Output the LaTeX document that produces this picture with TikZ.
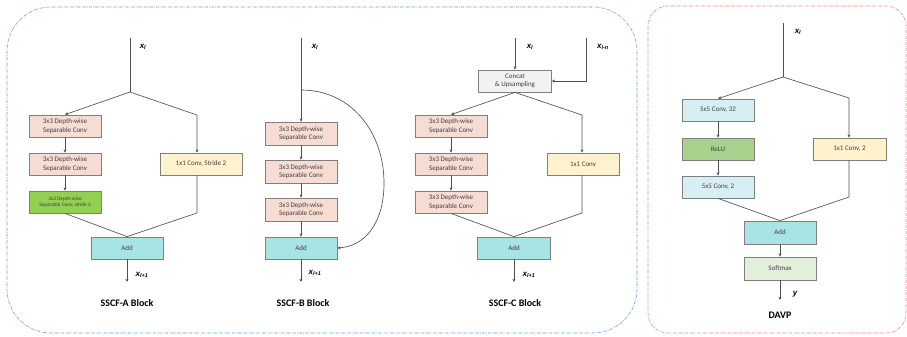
\documentclass[tikz,border=0pt]{standalone}
\usepackage{fontspec}
\setmainfont{Carlito}
\newfontfamily\labfont{Liberation Sans}
\usetikzlibrary{arrows.meta}
\definecolor{pinkf}{HTML}{F6DCD2}
\definecolor{yellf}{HTML}{FFF2CC}
\definecolor{greenf}{HTML}{92D050}
\definecolor{cyanf}{HTML}{A8E4E4}
\definecolor{grayf}{HTML}{F2F2F2}
\definecolor{lcyanf}{HTML}{D7EFF4}
\definecolor{reluf}{HTML}{A9D18E}
\definecolor{softf}{HTML}{E2EFDA}
\definecolor{boxline}{HTML}{7F7F7F}
\definecolor{conn}{HTML}{505050}
\definecolor{bluedash}{HTML}{6A9BD0}
\definecolor{reddash}{HTML}{F08080}
\tikzset{
  x=1pt, y=-1pt,
  blk/.style={draw=boxline, line width=0.8pt, minimum width=72pt, minimum height=22pt,
    inner sep=0pt, align=center, text=black!75, font=\fontsize{7}{8.5}\selectfont},
  pinkbox/.style={blk, fill=pinkf},
  yellbox/.style={blk, fill=yellf},
  greenbox/.style={blk, fill=greenf, font=\fontsize{5.3}{6.8}\selectfont},
  addbox/.style={blk, fill=cyanf},
  graybox/.style={blk, fill=grayf},
  lcbox/.style={blk, fill=lcyanf},
  relubox/.style={blk, fill=reluf},
  softbox/.style={blk, fill=softf},
  wire/.style={draw=conn, line width=0.65pt},
  arr/.style={wire, -{Stealth[length=3.2pt,width=3pt]}},
  lab/.style={font=\labfont\fontsize{8}{10}\selectfont\bfseries\itshape, inner sep=0pt},
  ttl/.style={font=\fontsize{10}{12}\selectfont\bfseries, inner sep=0pt},
  frame/.style={line width=0.6pt, dash pattern=on 3pt off 1.2pt on 0.7pt off 1.2pt}
}
\newcommand{\xl}{x\textsubscript{\fontsize{5.5}{7}\selectfont l}}
\newcommand{\xlp}{x\textsubscript{\fontsize{5.5}{7}\selectfont l+1}}
\newcommand{\xln}{x\textsubscript{\fontsize{5.5}{7}\selectfont l-n}}
\begin{document}
\begin{tikzpicture}
\useasboundingbox (0,0) rectangle (907,337);
\fill[white] (0,0) rectangle (907,337);
% frames
\draw[frame, draw=bluedash, rounded corners=44pt] (7,7) rectangle (637,333);
\draw[frame, draw=reddash, rounded corners=20pt] (648,6) rectangle (906,333);

% ---------------- SSCF-A ----------------
\node[pinkbox] (a1) at (65,126) {3x3 Depth-wise\\Separable Conv};
\node[pinkbox] (a2) at (65,164) {3x3 Depth-wise\\Separable Conv};
\node[greenbox] (a3) at (65,202) {3x3 Depth-wise\\Separable Conv, stride 2};
\node[yellbox, minimum width=82pt] (ya) at (201,164) {1x1 Conv, Stride 2};
\node[addbox] (adda) at (127,248) {Add};
\coordinate (ina) at (130,38);
\coordinate (spa) at (130,92);
\coordinate (ra) at (197,115);
\coordinate (rb) at (197,213);
\coordinate (outa) at (127,282);
\draw[wire] (ina) -- (spa);
\draw[arr] (spa) -- (a1.north);
\draw[arr] (spa) -- (ra) -- (ra |- ya.north);
\draw[arr] (a1) -- (a2);
\draw[arr] (a2) -- (a3);
\draw[wire] (a3.south) -- (adda.north);
\draw[wire] (ra |- ya.south) -- (rb) -- (adda.north);
\draw[arr] (adda) -- (outa);
\node[lab] (la1) at (143,47) {\xl};
\node[lab] (la2) at (142,275) {\xlp};
\node[ttl] (ta) at (127,303) {SSCF-A Block};

% ---------------- SSCF-B ----------------
\node[pinkbox, minimum height=23pt] (b1) at (301,133.5) {3x3 Depth-wise\\Separable Conv};
\node[pinkbox, minimum height=23pt] (b2) at (301,171.5) {3x3 Depth-wise\\Separable Conv};
\node[pinkbox, minimum height=23pt] (b3) at (301,209.5) {3x3 Depth-wise\\Separable Conv};
\node[addbox] (addb) at (301,248) {Add};
\coordinate (inb) at (301,38);
\coordinate (spb) at (301,90);
\coordinate (pkb) at (384,183);
\coordinate (outb) at (301,282);
\draw[wire] (inb) -- (spb);
\draw[arr] (spb) -- (b1.north);
\draw[arr] (b1) -- (b2);
\draw[arr] (b2) -- (b3);
\draw[arr] (b3) -- (addb);
\draw[arr] (spb) .. controls (352,90) and (384,133) .. (pkb) .. controls (384,222) and (366,246) .. (addb.east);
\draw[arr] (addb) -- (outb);
\node[lab] (lb1) at (315,47) {\xl};
\node[lab] (lb2) at (315,273) {\xlp};
\node[ttl] (tb) at (303,303) {SSCF-B Block};

% ---------------- SSCF-C ----------------
\node[graybox, minimum width=73pt] (cc) at (515,81) {Concat\\\& Upsampling};
\node[pinkbox] (c1) at (451,126) {3x3 Depth-wise\\Separable Conv};
\node[pinkbox] (c2) at (451,164) {3x3 Depth-wise\\Separable Conv};
\node[pinkbox] (c3) at (451,202) {3x3 Depth-wise\\Separable Conv};
\node[yellbox] (yc) at (583,164) {1x1 Conv};
\node[addbox, minimum width=73pt] (addc) at (514,248) {Add};
\coordinate (inc) at (515,38);
\coordinate (inn) at (586,38);
\coordinate (rc) at (582,115);
\coordinate (rd) at (582,213);
\coordinate (outc) at (514,282);
\draw[arr] (inc) -- (cc.north);
\draw[arr] (inn) -- (inn |- cc.east) -- (cc.east);
\draw[arr] (cc.south) -- (c1.north);
\draw[arr] (cc.south) -- (rc) -- (rc |- yc.north);
\draw[arr] (c1) -- (c2);
\draw[arr] (c2) -- (c3);
\draw[wire] (c3.south) -- (addc.north);
\draw[wire] (rc |- yc.south) -- (rd) -- (addc.north);
\draw[arr] (addc) -- (outc);
\node[lab] (lc1) at (530,47) {\xl};
\node[lab] (lc3) at (603,47) {\xln};
\node[lab] (lc2) at (529,275) {\xlp};
\node[ttl] (tc) at (515,303) {SSCF-C Block};

% ---------------- DAVP ----------------
\node[lcbox] (d1) at (718,110) {5x5 Conv, 32};
\node[relubox] (d2) at (718,149) {ReLU};
\node[lcbox] (d3) at (718,187) {5x5 Conv, 2};
\node[yellbox, minimum width=73pt] (yd) at (849.5,149) {1x1 Conv, 2};
\node[addbox, minimum height=23pt] (addd) at (780,232.5) {Add};
\node[softbox, minimum height=23pt] (sm) at (780,268.5) {Softmax};
\coordinate (ind) at (783,23);
\coordinate (spd) at (783,77);
\coordinate (re) at (849,98);
\coordinate (rf) at (849,197);
\coordinate (outd) at (780,300);
\draw[wire] (ind) -- (spd);
\draw[arr] (spd) -- (d1.north);
\draw[arr] (spd) -- (re) -- (re |- yd.north);
\draw[arr] (d1) -- (d2);
\draw[arr] (d2) -- (d3);
\draw[wire] (d3.south) -- (addd.north);
\draw[wire] (re |- yd.south) -- (rf) -- (addd.north);
\draw[arr] (addd) -- (sm);
\draw[arr] (sm) -- (outd);
\node[lab] (ld1) at (798,32) {\xl};
\node[lab] (ld2) at (795,294) {y};
\node[ttl] (td) at (780,315) {DAVP};
\end{tikzpicture}
\end{document}
